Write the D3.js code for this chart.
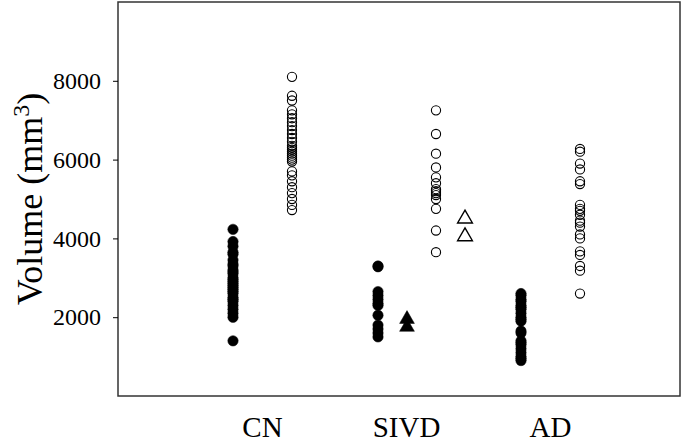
<!DOCTYPE html>
<html>
<head>
<meta charset="utf-8">
<script src="https://cdn.jsdelivr.net/npm/d3@7"></script>
<style>
  html, body { margin: 0; padding: 0; background: #fff; }
  svg { display: block; }
</style>
</head>
<body>
<div id="chart"></div>
<script>
// Volume by group: filled = one measure, open = the other; triangles are extra cases
const categories = ['CN', 'SIVD', 'AD'];
const yTicks = [2000, 4000, 6000, 8000];

const cnFilled = [4230, 3920, 3800, 3650, 3600, 3450, 3350, 3300, 3200, 3150, 3100, 3000, 2950, 2900,
  2850, 2800, 2750, 2700, 2650, 2600, 2500, 2450, 2400, 2300, 2200, 2100, 2000, 1400];
const cnOpen = [8100, 7620, 7500, 7250, 7150, 7050, 6950, 6850, 6750, 6650, 6550, 6450, 6350, 6300,
  6250, 6200, 6150, 6100, 6050, 6000, 5950, 5700, 5600, 5450, 5300, 5150, 5000, 4850, 4720];
const sivdFilled = [3300, 3280, 2650, 2550, 2450, 2350, 2300, 2050, 1800, 1700, 1600, 1500];
const sivdOpen = [7250, 6650, 6150, 5800, 5550, 5400, 5250, 5200, 5150, 5100, 5000, 4750, 4200, 3650];
const sivdFilledTri = [1950, 1750];
const sivdOpenTri = [4500, 4050];
const adFilled = [2600, 2550, 2450, 2400, 2300, 2250, 2200, 2100, 2000, 1950, 1900, 1650, 1600,
  1400, 1350, 1300, 1200, 1100, 1000, 950, 900];
const adOpen = [6270, 6200, 5900, 5750, 5450, 5380, 4850, 4750, 4700, 4600, 4450, 4400, 4300,
  4100, 4000, 3670, 3580, 3300, 3180, 2600];

(function() {
  const W = 683, H = 442;
  const margin = { top: 2, right: 3, bottom: 46, left: 118 };
  const width = W - margin.left - margin.right;
  const height = H - margin.top - margin.bottom;
  const serif = '"Liberation Serif", "Times New Roman", serif';

  const svg = d3.select('#chart')
    .append('svg')
    .attr('width', W)
    .attr('height', H)
    .append('g')
    .attr('transform', `translate(${margin.left}, ${margin.top})`);

  const x = d3.scalePoint()
    .domain(categories)
    .range([144, 432]);

  const y = d3.scaleLinear()
    .domain([0, 10000])
    .range([height, 0]);

  // marks per group; dx is the horizontal shift from the category centre
  const series = [
    { cat: 'CN', values: cnFilled, shape: 'circle', filled: true, dx: -29 },
    { cat: 'CN', values: cnOpen, shape: 'circle', filled: false, dx: 30 },
    { cat: 'SIVD', values: sivdFilled, shape: 'circle', filled: true, dx: -28 },
    { cat: 'SIVD', values: sivdFilledTri, shape: 'triangle', filled: true, dx: 1 },
    { cat: 'SIVD', values: sivdOpen, shape: 'circle', filled: false, dx: 30 },
    { cat: 'SIVD', values: sivdOpenTri, shape: 'triangle', filled: false, dx: 59 },
    { cat: 'AD', values: adFilled, shape: 'circle', filled: true, dx: -29 },
    { cat: 'AD', values: adOpen, shape: 'circle', filled: false, dx: 30 }
  ];

  // frame
  svg.append('rect')
    .attr('x', 0)
    .attr('y', 0)
    .attr('width', width)
    .attr('height', height)
    .attr('fill', 'none')
    .attr('stroke', '#333')
    .attr('stroke-width', 1.5);

  // y axis
  const yAxis = svg.append('g')
    .call(d3.axisLeft(y).tickValues(yTicks).tickSize(5).tickPadding(12).tickFormat(d3.format('d')));
  yAxis.select('.domain').remove();
  yAxis.selectAll('line').attr('stroke', '#000');
  yAxis.selectAll('text')
    .style('font-family', serif)
    .style('font-size', '24px')
    .attr('fill', '#000');

  // category labels
  const xAxis = svg.append('g')
    .attr('transform', `translate(0, ${height})`)
    .call(d3.axisBottom(x).tickSize(0).tickPadding(20));
  xAxis.select('.domain').remove();
  xAxis.selectAll('text')
    .style('font-family', serif)
    .style('font-size', '29px')
    .attr('fill', '#000');

  // y title
  const title = svg.append('text')
    .attr('transform', `translate(${-76}, ${height / 2}) rotate(-90)`)
    .attr('text-anchor', 'middle')
    .style('font-family', serif)
    .style('font-size', '36px')
    .attr('fill', '#000');
  title.append('tspan').text('Volume (mm');
  title.append('tspan').attr('baseline-shift', 'super').style('font-size', '24px').text('3');
  title.append('tspan').text(')');

  const triangle = d3.symbol().type(d3.symbolTriangle).size(95);

  series.forEach(s => {
    const cx = x(s.cat) + s.dx;
    const g = svg.append('g');
    if (s.shape === 'circle') {
      g.selectAll('circle')
        .data(s.values)
        .enter()
        .append('circle')
        .attr('cx', cx)
        .attr('cy', d => y(d))
        .attr('r', s.filled ? 5.2 : 4.6)
        .attr('fill', s.filled ? '#000' : 'none')
        .attr('stroke', '#000')
        .attr('stroke-width', s.filled ? 0.5 : 1.1);
    } else {
      g.selectAll('path')
        .data(s.values)
        .enter()
        .append('path')
        .attr('d', triangle)
        .attr('transform', d => `translate(${cx}, ${y(d)})`)
        .attr('fill', s.filled ? '#000' : 'none')
        .attr('stroke', '#000')
        .attr('stroke-width', s.filled ? 0.5 : 1.4);
    }
  });
})();
</script>
</body>
</html>
